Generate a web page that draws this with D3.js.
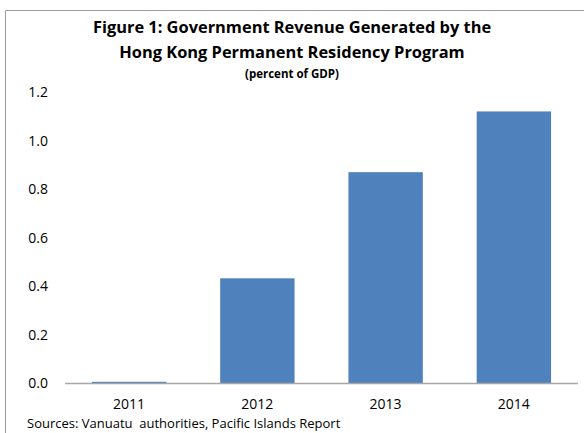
<!DOCTYPE html>
<html>
<head>
<meta charset="utf-8">
<script src="https://cdn.jsdelivr.net/npm/d3@7"></script>
<style>
  body { margin: 0; background: #fff; }
  text { font-family: "Open Sans", "Noto Sans", sans-serif; fill: #000; }
</style>
</head>
<body>
<div id="chart"></div>
<script>
// values
let years = ["2011", "2012", "2013", "2014"];
let revenue = [0.007, 0.433, 0.87, 1.12];
let yTicks = [0, 0.2, 0.4, 0.6, 0.8, 1.0, 1.2];

let width = 584, height = 433;
let margin = {top: 92, right: 6, bottom: 50, left: 65};

let svg = d3.select("#chart").append("svg")
    .attr("width", width)
    .attr("height", height);

// outer frame (only left and top edges show)
svg.append("path")
    .attr("d", "M5.5,433 V10.5 H584")
    .attr("fill", "none")
    .attr("stroke", "#9a9a9a");

let x = d3.scaleBand()
    .domain(years)
    .range([margin.left, width - margin.right])
    .paddingInner(0.42)
    .paddingOuter(0.21);

let y = d3.scaleLinear()
    .domain([0, 1.2])
    .range([383.5, margin.top]);

let data = years.map(function(d, i) { return {year: d, value: revenue[i]}; });

svg.selectAll(".bar")
    .data(data)
    .enter().append("rect")
    .attr("class", "bar")
    .attr("x", function(d) { return x(d.year); })
    .attr("y", function(d) { return y(d.value); })
    .attr("width", x.bandwidth())
    .attr("height", function(d) { return y(0) - y(d.value); })
    .attr("fill", "#4f81bd");

// baseline
svg.append("line")
    .attr("x1", margin.left)
    .attr("x2", width - margin.right)
    .attr("y1", y(0))
    .attr("y2", y(0))
    .attr("stroke", "#a6a6a6")
    .attr("stroke-width", 1.5);

// y axis labels, no line
let yAxis = svg.append("g")
    .attr("transform", "translate(" + 48 + ",0)")
    .call(d3.axisLeft(y).tickValues(yTicks).tickFormat(d3.format(".1f")).tickSize(0).tickPadding(0));
yAxis.select(".domain").remove();
yAxis.selectAll("text")
    .style("font-size", "14px")
    .style("font-family", "'Open Sans', sans-serif")
    .attr("fill", "#000");

// x axis labels
let xAxis = svg.append("g")
    .attr("transform", "translate(0," + y(0) + ")")
    .call(d3.axisBottom(x).tickSize(0).tickPadding(16));
xAxis.select(".domain").remove();
xAxis.selectAll("text")
    .style("font-size", "14px")
    .style("font-family", "'Open Sans', sans-serif")
    .attr("fill", "#000");

// titles
svg.append("text")
    .attr("x", 292).attr("y", 33)
    .attr("text-anchor", "middle")
    .style("font-size", "16.4px").style("font-weight", "bold")
    .text("Figure 1: Government Revenue Generated by the");
svg.append("text")
    .attr("x", 292).attr("y", 58)
    .attr("text-anchor", "middle")
    .style("font-size", "16.4px").style("font-weight", "bold")
    .text("Hong Kong Permanent Residency Program");
svg.append("text")
    .attr("x", 292).attr("y", 78)
    .attr("text-anchor", "middle")
    .style("font-size", "11.5px").style("font-weight", "bold")
    .text("(percent of GDP)");

svg.append("text")
    .attr("x", 27).attr("y", 428)
    .style("font-size", "13px")
    .style("white-space", "pre")
    .text("Sources: Vanuatu  authorities, Pacific Islands Report");
</script>
</body>
</html>
